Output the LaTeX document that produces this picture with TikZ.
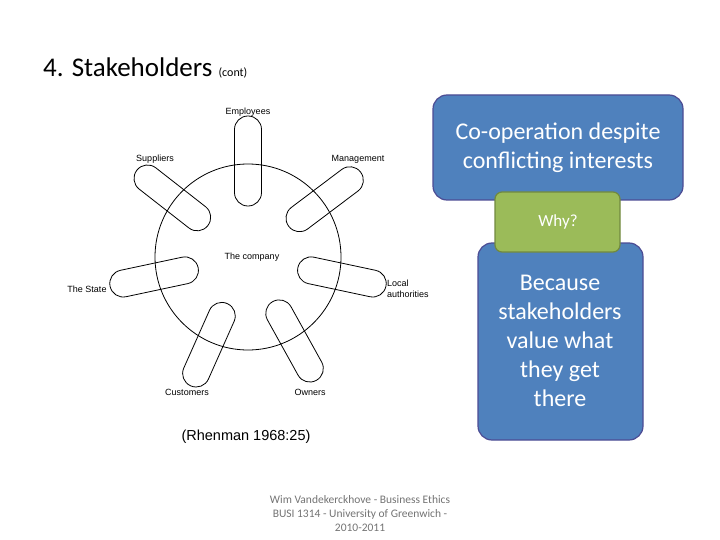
\documentclass[tikz,border=0pt]{standalone}
\usepackage{fontspec}
\usetikzlibrary{calc}
\setmainfont{Carlito}
\newfontfamily\arialf{Liberation Sans}
\begin{document}
\begin{tikzpicture}[x=1pt,y=-1pt,
  pill/.style={draw,line width=0.8pt,rounded corners=13.4pt,minimum width=90pt,minimum height=27pt,inner sep=0pt},
  lbl/.style={font=\arialf\fontsize{9}{9}\selectfont,inner sep=1pt},
  bluebox/.style={draw=blue!40!black!70,line width=1.2pt,fill={rgb,255:red,79;green,129;blue,189},rounded corners=14pt},
  greenbox/.style={draw={rgb,255:red,113;green,137;blue,63},line width=1.2pt,fill={rgb,255:red,155;green,187;blue,89},rounded corners=7pt}]
\useasboundingbox (0,0) rectangle (720,540);
\node[anchor=base west,inner sep=0] (title) at (43,77) {\fontsize{27}{30}\selectfont 4. Stakeholders \fontsize{12}{13}\selectfont(cont)};
\coordinate (c) at (248,257);
\draw[line width=0.8pt] (c) circle (93);
\foreach \a/\n in {90/emp,142/sup,37/man,-12/loc,192/sta,246/cus,299/own}{
  \node[pill,rotate=\a] (\n) at ($(c)+({96*cos(\a)},{-96*sin(\a)})$) {};
}
\node[lbl] (comp) at (252,257) {The company};
\node[lbl] (l1) at (248,112) {Employees};
\node[lbl] (l2) at (155,159) {Suppliers};
\node[lbl] (l3) at (358,159) {Management};
\node[lbl,anchor=west,align=left,font=\arialf\fontsize{9}{10.5}\selectfont] (l4) at (386,289) {Local\\authorities};
\node[lbl] (l5) at (87,289) {The State};
\node[lbl] (l6) at (187,392) {Customers};
\node[lbl] (l7) at (310,392) {Owners};
\node[font=\arialf\fontsize{14.5}{16}\selectfont] (ref) at (246,437) {(Rhenman 1968:25)};
\node[align=center,text=gray!90!black,font=\fontsize{11.5}{14}\selectfont] (foot) at (360,514) {Wim Vandekerckhove - Business Ethics\\BUSI 1314 - University of Greenwich -\\2010-2011};
\path[bluebox] (433,95) rectangle (683,200);
\node[text=white,align=center,font=\fontsize{24}{29}\selectfont] (t1) at (558,148) {Co-operation despite\\conflicting interests};
\path[bluebox] (478,243) rectangle (643,440);
\node[text=white,align=center,font=\fontsize{24}{29}\selectfont] (t2) at (560,341) {Because\\stakeholders\\value what\\they get\\there};
\path[greenbox] (495,192) rectangle (620,252);
\node[text=white,font=\fontsize{17}{19}\selectfont] (why) at (558,222) {Why?};
\end{tikzpicture}
\end{document}
